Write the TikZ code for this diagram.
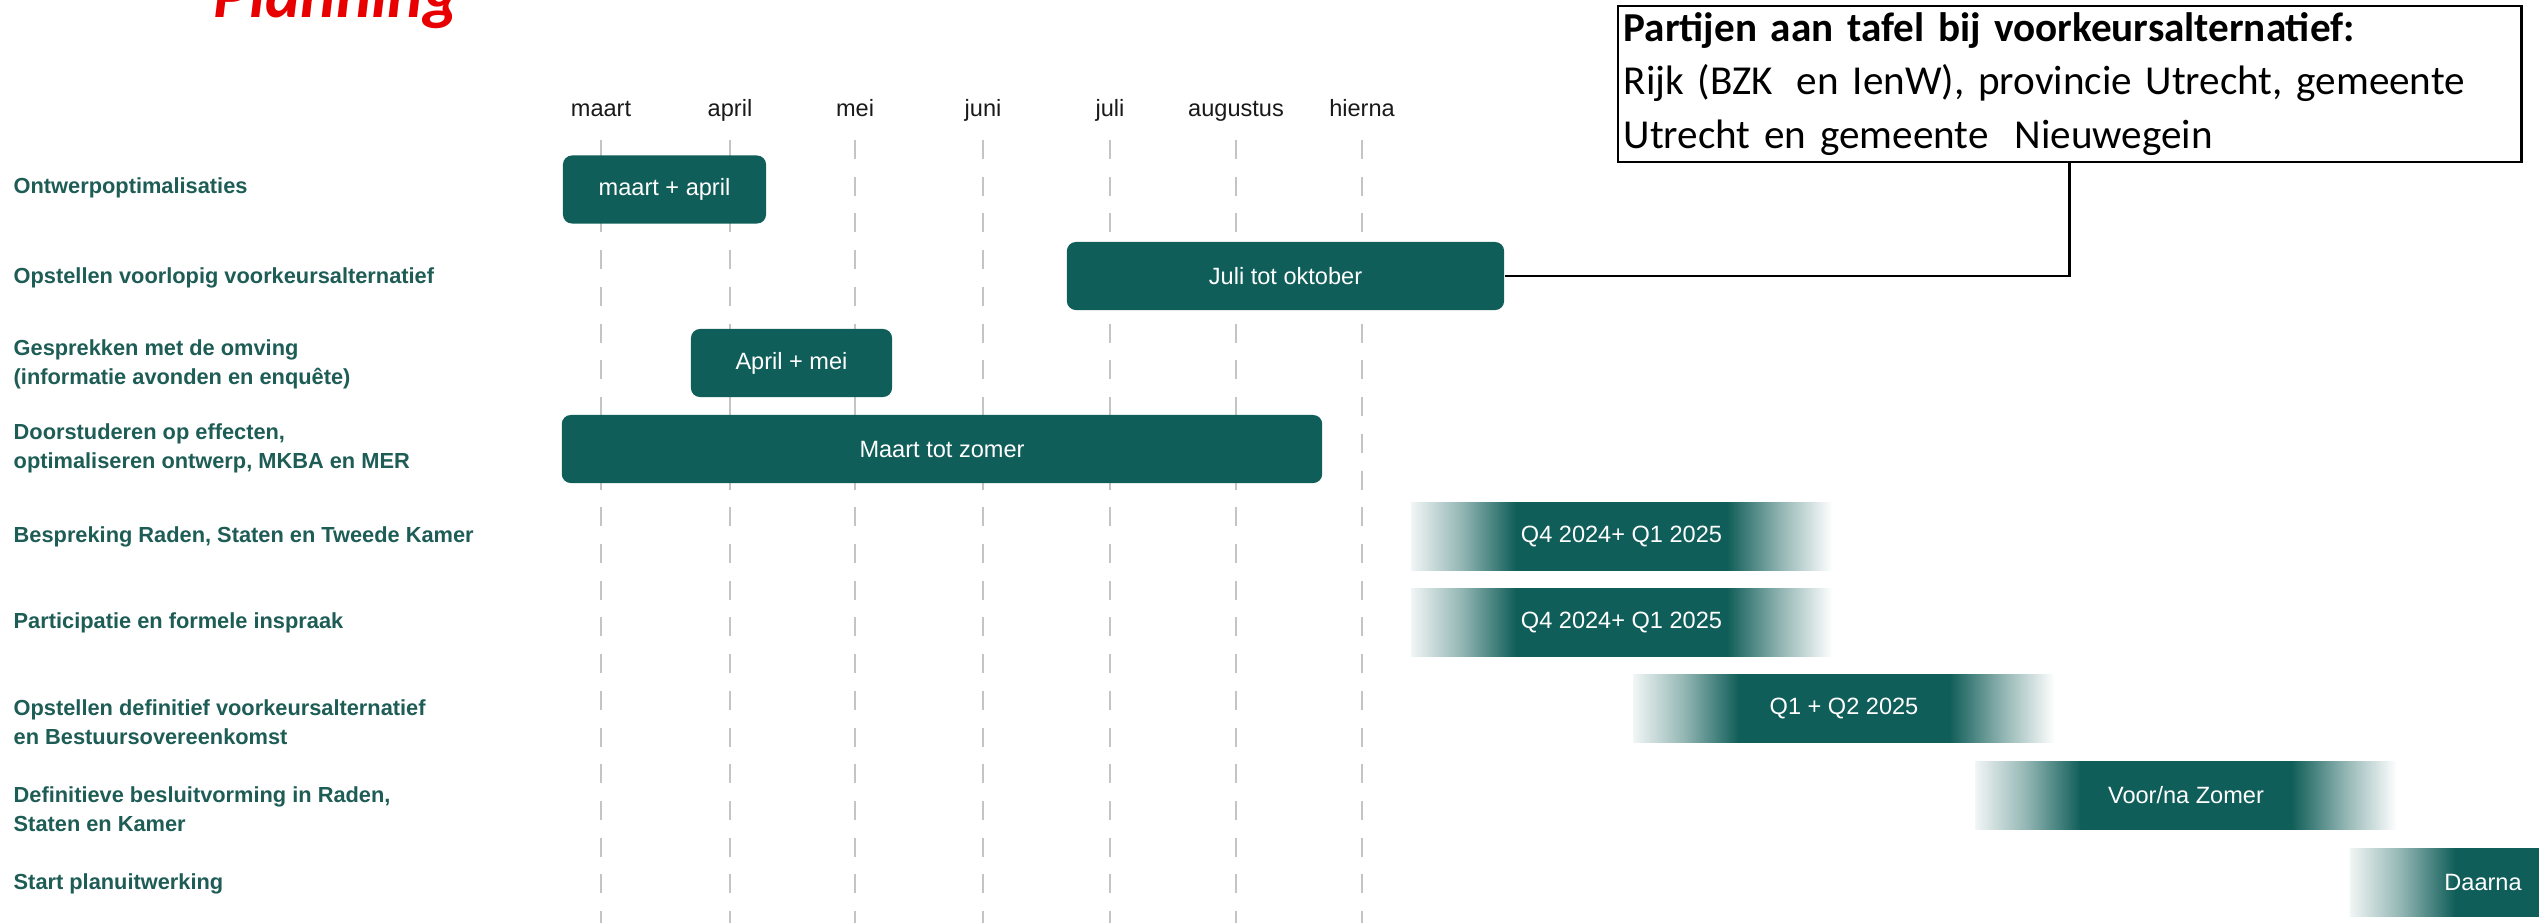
\documentclass[tikz,border=0pt]{standalone}
\usepackage{fontspec}
\setmainfont{Liberation Sans}
\newfontfamily\boxfont{Carlito}
\usetikzlibrary{positioning}

\definecolor{barteal}{RGB}{16,94,89}
\definecolor{labelteal}{RGB}{30,92,86}
\definecolor{gridgray}{RGB}{196,196,196}
\definecolor{titlered}{RGB}{232,0,0}
\colorlet{fadelight}{barteal!6}
\colorlet{fademid}{barteal!45}
\pgfdeclarehorizontalshading{barfade}{100bp}{color(0bp)=(fadelight); color(25bp)=(fadelight); color(31bp)=(fademid); color(37.5bp)=(barteal); color(62.5bp)=(barteal); color(69bp)=(fademid); color(75bp)=(white); color(100bp)=(white)}

\tikzset{
  monthlabel/.style={anchor=base, font=\fontsize{6.7}{8}\selectfont, text=black!90},
  monthline/.style={gridgray, line width=0.6pt, dash pattern=on 0.19cm off 0.177cm},
  rowlabel/.style={anchor=west, align=left, inner sep=0pt, text=labelteal,
    font=\bfseries\fontsize{6.2}{8.25}\selectfont},
  bartext/.style={text=white, font=\fontsize{6.7}{8}\selectfont},
  periodbar/.style={bartext, fill=barteal, rounded corners=0.09cm,
    minimum height=0.68cm, inner sep=0pt},
  fadebar/.style={bartext, shade, shading=barfade, minimum height=0.68cm,
    minimum width=4.21cm, inner sep=0pt},
}

\begin{document}
\begin{tikzpicture}[x=0.01cm, y=-0.01cm]
\useasboundingbox (0,0) rectangle (2539,923);

% title
\node[anchor=base west, inner sep=0pt, text=titlered,
  font=\boxfont\bfseries\itshape\fontsize{19}{22}\selectfont] (title) at (213,17) {Planning};

% months and dashed columns
\foreach \mx/\mname [count=\i] in {601/maart, 730/april, 855/mei, 983/juni, 1110/juli, 1236/augustus, 1362/hierna}{
  \draw[monthline] (\mx,140) -- (\mx,923);
  \node[monthlabel] (m\i) at (\mx,116) {\mname};
}

% activities
\node[rowlabel] (r1) at (13,188) {Ontwerpoptimalisaties};
\node[rowlabel] (r2) at (13,278) {Opstellen voorlopig voorkeursalternatief};
\node[rowlabel] (r3) at (13,364) {Gesprekken met de omving\\(informatie avonden en enquête)};
\node[rowlabel] (r4) at (13,448) {Doorstuderen op effecten,\\optimaliseren ontwerp, MKBA en MER};
\node[rowlabel] (r5) at (13,537) {Bespreking Raden, Staten en Tweede Kamer};
\node[rowlabel] (r6) at (13,623) {Participatie en formele inspraak};
\node[rowlabel] (r7) at (13,722) {Opstellen definitief voorkeursalternatief\\en Bestuursovereenkomst};
\node[rowlabel] (r8) at (13,809) {Definitieve besluitvorming in Raden,\\Staten en Kamer};
\node[rowlabel] (r9) at (13,884) {Start planuitwerking};

% bars
\node[periodbar, minimum width=2.03cm] (ontwerp) at (664.5,189.5) {maart + april};
\node[periodbar, minimum width=4.37cm] (voorlopig) at (1285.5,276) {Juli tot oktober};
\node[periodbar, minimum width=2.01cm] (gesprek) at (791.5,363) {April + mei};
\node[periodbar, minimum width=7.60cm] (studie) at (942,449) {Maart tot zomer};
\node[fadebar] (bespreking) at (1621.5,536) {Q4 2024+ Q1 2025};
\node[fadebar] (inspraak) at (1621.5,622) {Q4 2024+ Q1 2025};
\node[fadebar] (definitief) at (1844,708) {Q1 + Q2 2025};
\node[fadebar] (besluit) at (2186,795) {Voor/na Zomer};
\node[fadebar] (start) at (2560.5,882) {};
\node[bartext] (daarna) at (2483,882) {Daarna};

% parties box
\node[draw, line width=0.7pt, minimum width=9.03cm, minimum height=1.56cm,
  text width=8.91cm, inner xsep=0.06cm, inner ysep=0pt, align=left,
  font=\boxfont\fontsize{11.7}{15.3}\selectfont] (partijen) at (2069.5,84)
  {\textbf{Partijen aan tafel bij voorkeursalternatief:}\\Rijk (BZK\hspace{0.25em} en IenW), provincie Utrecht, gemeente\\Utrecht en gemeente\hspace{0.3em} Nieuwegein};
\draw[line width=0.6pt] (voorlopig.east) -| (partijen.south);
\end{tikzpicture}
\end{document}
